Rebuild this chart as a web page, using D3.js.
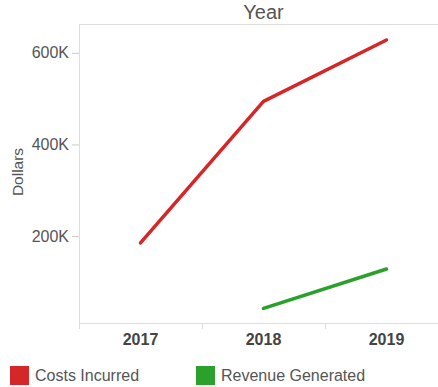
<!DOCTYPE html>
<html>
<head>
<meta charset="utf-8">
<script src="https://cdn.jsdelivr.net/npm/d3@7"></script>
<style>
  html, body { margin: 0; padding: 0; background: #fff; }
  svg { display: block; font-family: "Liberation Sans", Arial, sans-serif; }
</style>
</head>
<body>
<svg id="chart" width="438" height="387"></svg>
<script>
const years = ["2017", "2018", "2019"];
const seriesNames = ["Costs Incurred", "Revenue Generated"];
const seriesColors = ["#d62728", "#2ca02c"];
const costsIncurred = [185000, 494000, 628000];
const revenueGenerated = [null, 42000, 128000];
const yTicks = [200000, 400000, 600000];

(function () {
const svg = d3.select("#chart");
const mLeft = 79, mTop = 24, mBottom = 323, mRight = 448;

const x = d3.scaleBand().domain(years).range([mLeft, mRight]);
const y = d3.scaleLinear().domain([10000, 663000]).range([mBottom, mTop]);

// plot frame (top and left)
svg.append("line").attr("x1", mLeft).attr("x2", 438).attr("y1", mTop + 0.5).attr("y2", mTop + 0.5)
  .attr("stroke", "#ddd").attr("stroke-width", 1);
svg.append("line").attr("x1", mLeft + 0.5).attr("x2", mLeft + 0.5).attr("y1", mTop).attr("y2", mBottom + 6)
  .attr("stroke", "#ddd").attr("stroke-width", 1);

// y axis
const yAxis = svg.append("g").attr("transform", `translate(${mLeft},0)`)
  .call(d3.axisLeft(y).tickValues(yTicks).tickFormat(d => d3.format("d")(d / 1000) + "K").tickSize(7).tickPadding(3));
yAxis.select(".domain").remove();
yAxis.selectAll(".tick line").attr("stroke", "#ccc");
yAxis.selectAll(".tick text").attr("fill", "#555").style("font-size", "16px").style("font-family", "Liberation Sans, Arial, sans-serif");

// x axis
const xAxis = svg.append("g").attr("transform", `translate(0,${mBottom})`)
  .call(d3.axisBottom(x).tickSize(0).tickPadding(11));
xAxis.select(".domain").attr("stroke", "#ddd").attr("d", `M${mLeft},0.5H${mRight}`);
xAxis.selectAll(".tick text").attr("fill", "#444").style("font-size", "16px").style("font-weight", "bold")
  .style("font-family", "Liberation Sans, Arial, sans-serif");
// band boundary ticks
svg.append("g").selectAll("line").data(years).join("line")
  .attr("x1", d => Math.round(x(d)) + 0.5).attr("x2", d => Math.round(x(d)) + 0.5)
  .attr("y1", mBottom).attr("y2", mBottom + 6).attr("stroke", "#ddd");

// title
svg.append("text").attr("x", (mLeft + mRight) / 2).attr("y", 19).attr("text-anchor", "middle")
  .attr("fill", "#555").style("font-size", "20px").text("Year");

// y label
svg.append("text").attr("transform", `translate(23,172) rotate(-90)`).attr("text-anchor", "middle")
  .attr("fill", "#555").style("font-size", "15.5px").text("Dollars");

// lines
const allSeries = [costsIncurred, revenueGenerated];
const line = d3.line()
  .defined(d => d.v !== null)
  .x(d => x(d.year) + x.bandwidth() / 2)
  .y(d => y(d.v));
allSeries.forEach((vals, i) => {
  const pts = years.map((yr, j) => ({ year: yr, v: vals[j] }));
  svg.append("path").datum(pts).attr("d", line)
    .attr("fill", "none").attr("stroke", seriesColors[i]).attr("stroke-width", 3.5)
    .attr("stroke-linejoin", "round").attr("stroke-linecap", "round");
});

// legend
const legendX = [10, 196];
seriesNames.forEach((name, i) => {
  svg.append("rect").attr("x", legendX[i]).attr("y", 366).attr("width", 19).attr("height", 19)
    .attr("fill", seriesColors[i]);
  svg.append("text").attr("x", legendX[i] + 25).attr("y", 381).attr("fill", "#555")
    .style("font-size", "16px").text(name);
});
})();
</script>
</body>
</html>
